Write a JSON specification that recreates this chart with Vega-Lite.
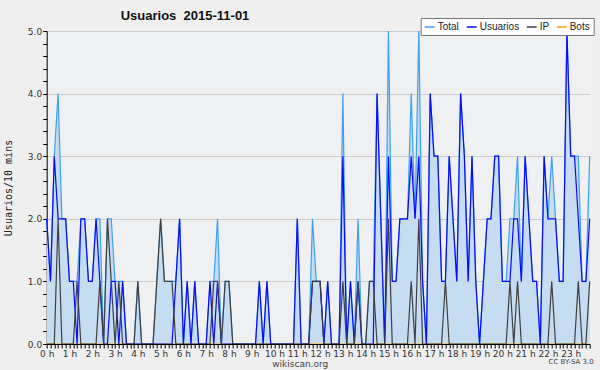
{
  "$schema": "https://vega.github.io/schema/vega-lite/v6.json",
  "autosize": {"type": "none"},
  "width": 543,
  "height": 313,
  "padding": {"left": 46.7, "top": 31, "right": 10.3, "bottom": 26},
  "background": "#efefef",
  "title": {"text": "Usuarios\u00a0 2015-11-01", "anchor": "start", "frame": "group", "dx": 74, "offset": -5, "font": "Liberation Sans", "fontSize": 13, "fontWeight": "bold", "color": "#111"},
  "config": {"view": {"fill": "#eef0f2", "stroke": null}, "font": "DejaVu Sans"},
  "data": {"values": [
    {"i":0,"Total":2,"Usuarios":2,"IP":0,"Bots":0},{"i":1,"Total":1,"Usuarios":1,"IP":0,"Bots":0},{"i":2,"Total":3,"Usuarios":3,"IP":0,"Bots":0},{"i":3,"Total":4,"Usuarios":2,"IP":2,"Bots":0},{"i":4,"Total":2,"Usuarios":2,"IP":0,"Bots":0},{"i":5,"Total":2,"Usuarios":2,"IP":0,"Bots":0},{"i":6,"Total":1,"Usuarios":1,"IP":0,"Bots":0},{"i":7,"Total":1,"Usuarios":1,"IP":0,"Bots":0},{"i":8,"Total":1,"Usuarios":0,"IP":1,"Bots":0},{"i":9,"Total":2,"Usuarios":2,"IP":0,"Bots":0},
    {"i":10,"Total":2,"Usuarios":2,"IP":0,"Bots":0},{"i":11,"Total":1,"Usuarios":1,"IP":0,"Bots":0},{"i":12,"Total":1,"Usuarios":1,"IP":0,"Bots":0},{"i":13,"Total":2,"Usuarios":2,"IP":0,"Bots":0},{"i":14,"Total":2,"Usuarios":1,"IP":1,"Bots":0},{"i":15,"Total":0,"Usuarios":0,"IP":0,"Bots":0},{"i":16,"Total":2,"Usuarios":0,"IP":2,"Bots":0},{"i":17,"Total":2,"Usuarios":1,"IP":1,"Bots":0},{"i":18,"Total":1,"Usuarios":1,"IP":0,"Bots":0},{"i":19,"Total":1,"Usuarios":0,"IP":1,"Bots":0},
    {"i":20,"Total":1,"Usuarios":1,"IP":0,"Bots":0},{"i":21,"Total":0,"Usuarios":0,"IP":0,"Bots":0},{"i":22,"Total":0,"Usuarios":0,"IP":0,"Bots":0},{"i":23,"Total":0,"Usuarios":0,"IP":0,"Bots":0},{"i":24,"Total":1,"Usuarios":0,"IP":1,"Bots":0},{"i":25,"Total":0,"Usuarios":0,"IP":0,"Bots":0},{"i":26,"Total":0,"Usuarios":0,"IP":0,"Bots":0},{"i":27,"Total":0,"Usuarios":0,"IP":0,"Bots":0},{"i":28,"Total":0,"Usuarios":0,"IP":0,"Bots":0},{"i":29,"Total":1,"Usuarios":0,"IP":1,"Bots":0},
    {"i":30,"Total":2,"Usuarios":0,"IP":2,"Bots":0},{"i":31,"Total":1,"Usuarios":0,"IP":1,"Bots":0},{"i":32,"Total":1,"Usuarios":0,"IP":1,"Bots":0},{"i":33,"Total":1,"Usuarios":0,"IP":1,"Bots":0},{"i":34,"Total":1,"Usuarios":1,"IP":0,"Bots":0},{"i":35,"Total":2,"Usuarios":2,"IP":0,"Bots":0},{"i":36,"Total":0,"Usuarios":0,"IP":0,"Bots":0},{"i":37,"Total":1,"Usuarios":1,"IP":0,"Bots":0},{"i":38,"Total":0,"Usuarios":0,"IP":0,"Bots":0},{"i":39,"Total":1,"Usuarios":1,"IP":0,"Bots":0},
    {"i":40,"Total":0,"Usuarios":0,"IP":0,"Bots":0},{"i":41,"Total":0,"Usuarios":0,"IP":0,"Bots":0},{"i":42,"Total":0,"Usuarios":0,"IP":0,"Bots":0},{"i":43,"Total":1,"Usuarios":1,"IP":0,"Bots":0},{"i":44,"Total":1,"Usuarios":0,"IP":1,"Bots":0},{"i":45,"Total":2,"Usuarios":1,"IP":1,"Bots":0},{"i":46,"Total":0,"Usuarios":0,"IP":0,"Bots":0},{"i":47,"Total":1,"Usuarios":0,"IP":1,"Bots":0},{"i":48,"Total":1,"Usuarios":0,"IP":1,"Bots":0},{"i":49,"Total":0,"Usuarios":0,"IP":0,"Bots":0},
    {"i":50,"Total":0,"Usuarios":0,"IP":0,"Bots":0},{"i":51,"Total":0,"Usuarios":0,"IP":0,"Bots":0},{"i":52,"Total":0,"Usuarios":0,"IP":0,"Bots":0},{"i":53,"Total":0,"Usuarios":0,"IP":0,"Bots":0},{"i":54,"Total":0,"Usuarios":0,"IP":0,"Bots":0},{"i":55,"Total":0,"Usuarios":0,"IP":0,"Bots":0},{"i":56,"Total":1,"Usuarios":1,"IP":0,"Bots":0},{"i":57,"Total":0,"Usuarios":0,"IP":0,"Bots":0},{"i":58,"Total":1,"Usuarios":1,"IP":0,"Bots":0},{"i":59,"Total":0,"Usuarios":0,"IP":0,"Bots":0},
    {"i":60,"Total":0,"Usuarios":0,"IP":0,"Bots":0},{"i":61,"Total":0,"Usuarios":0,"IP":0,"Bots":0},{"i":62,"Total":0,"Usuarios":0,"IP":0,"Bots":0},{"i":63,"Total":0,"Usuarios":0,"IP":0,"Bots":0},{"i":64,"Total":0,"Usuarios":0,"IP":0,"Bots":0},{"i":65,"Total":0,"Usuarios":0,"IP":0,"Bots":0},{"i":66,"Total":2,"Usuarios":2,"IP":0,"Bots":0},{"i":67,"Total":0,"Usuarios":0,"IP":0,"Bots":0},{"i":68,"Total":0,"Usuarios":0,"IP":0,"Bots":0},{"i":69,"Total":0,"Usuarios":0,"IP":0,"Bots":0},
    {"i":70,"Total":2,"Usuarios":1,"IP":1,"Bots":0},{"i":71,"Total":1,"Usuarios":1,"IP":1,"Bots":0},{"i":72,"Total":1,"Usuarios":1,"IP":1,"Bots":0},{"i":73,"Total":0,"Usuarios":0,"IP":0,"Bots":0},{"i":74,"Total":1,"Usuarios":1,"IP":0,"Bots":0},{"i":75,"Total":0,"Usuarios":0,"IP":0,"Bots":0},{"i":76,"Total":0,"Usuarios":0,"IP":0,"Bots":0},{"i":77,"Total":0,"Usuarios":0,"IP":0,"Bots":0},{"i":78,"Total":4,"Usuarios":3,"IP":1,"Bots":0},{"i":79,"Total":0,"Usuarios":0,"IP":0,"Bots":0},
    {"i":80,"Total":1,"Usuarios":1,"IP":0,"Bots":0},{"i":81,"Total":0,"Usuarios":0,"IP":0,"Bots":0},{"i":82,"Total":2,"Usuarios":1,"IP":1,"Bots":0},{"i":83,"Total":0,"Usuarios":0,"IP":0,"Bots":0},{"i":84,"Total":0,"Usuarios":0,"IP":0,"Bots":0},{"i":85,"Total":1,"Usuarios":0,"IP":1,"Bots":0},{"i":86,"Total":1,"Usuarios":0,"IP":1,"Bots":0},{"i":87,"Total":4,"Usuarios":4,"IP":0,"Bots":0},{"i":88,"Total":2,"Usuarios":2,"IP":0,"Bots":0},{"i":89,"Total":0,"Usuarios":0,"IP":0,"Bots":0},
    {"i":90,"Total":5,"Usuarios":3,"IP":2,"Bots":0},{"i":91,"Total":1,"Usuarios":1,"IP":0,"Bots":0},{"i":92,"Total":1,"Usuarios":1,"IP":0,"Bots":0},{"i":93,"Total":2,"Usuarios":2,"IP":0,"Bots":0},{"i":94,"Total":2,"Usuarios":2,"IP":0,"Bots":0},{"i":95,"Total":2,"Usuarios":2,"IP":0,"Bots":0},{"i":96,"Total":4,"Usuarios":3,"IP":1,"Bots":0},{"i":97,"Total":2,"Usuarios":2,"IP":0,"Bots":0},{"i":98,"Total":5,"Usuarios":3,"IP":2,"Bots":0},{"i":99,"Total":1,"Usuarios":1,"IP":0,"Bots":0},
    {"i":100,"Total":0,"Usuarios":0,"IP":0,"Bots":0},{"i":101,"Total":4,"Usuarios":4,"IP":0,"Bots":0},{"i":102,"Total":3,"Usuarios":3,"IP":0,"Bots":0},{"i":103,"Total":3,"Usuarios":3,"IP":0,"Bots":0},{"i":104,"Total":1,"Usuarios":1,"IP":0,"Bots":0},{"i":105,"Total":1,"Usuarios":1,"IP":1,"Bots":0},{"i":106,"Total":3,"Usuarios":3,"IP":0,"Bots":0},{"i":107,"Total":2,"Usuarios":2,"IP":0,"Bots":0},{"i":108,"Total":1,"Usuarios":1,"IP":0,"Bots":0},{"i":109,"Total":4,"Usuarios":4,"IP":0,"Bots":0},
    {"i":110,"Total":3,"Usuarios":3,"IP":0,"Bots":0},{"i":111,"Total":1,"Usuarios":1,"IP":0,"Bots":0},{"i":112,"Total":3,"Usuarios":3,"IP":0,"Bots":0},{"i":113,"Total":1,"Usuarios":1,"IP":0,"Bots":0},{"i":114,"Total":0,"Usuarios":0,"IP":0,"Bots":0},{"i":115,"Total":1,"Usuarios":1,"IP":0,"Bots":0},{"i":116,"Total":2,"Usuarios":2,"IP":0,"Bots":0},{"i":117,"Total":2,"Usuarios":2,"IP":0,"Bots":0},{"i":118,"Total":3,"Usuarios":3,"IP":0,"Bots":0},{"i":119,"Total":3,"Usuarios":3,"IP":0,"Bots":0},
    {"i":120,"Total":1,"Usuarios":1,"IP":0,"Bots":0},{"i":121,"Total":1,"Usuarios":1,"IP":0,"Bots":0},{"i":122,"Total":2,"Usuarios":1,"IP":1,"Bots":0},{"i":123,"Total":2,"Usuarios":2,"IP":0,"Bots":0},{"i":124,"Total":3,"Usuarios":2,"IP":1,"Bots":0},{"i":125,"Total":1,"Usuarios":1,"IP":0,"Bots":0},{"i":126,"Total":3,"Usuarios":3,"IP":0,"Bots":0},{"i":127,"Total":2,"Usuarios":2,"IP":0,"Bots":0},{"i":128,"Total":1,"Usuarios":1,"IP":0,"Bots":0},{"i":129,"Total":1,"Usuarios":1,"IP":0,"Bots":0},
    {"i":130,"Total":0,"Usuarios":0,"IP":0,"Bots":0},{"i":131,"Total":3,"Usuarios":3,"IP":0,"Bots":0},{"i":132,"Total":2,"Usuarios":2,"IP":0,"Bots":0},{"i":133,"Total":3,"Usuarios":2,"IP":1,"Bots":0},{"i":134,"Total":2,"Usuarios":2,"IP":0,"Bots":0},{"i":135,"Total":1,"Usuarios":1,"IP":0,"Bots":0},{"i":136,"Total":1,"Usuarios":1,"IP":0,"Bots":0},{"i":137,"Total":5,"Usuarios":5,"IP":0,"Bots":0},{"i":138,"Total":3,"Usuarios":3,"IP":0,"Bots":0},{"i":139,"Total":3,"Usuarios":3,"IP":0,"Bots":0},
    {"i":140,"Total":3,"Usuarios":2,"IP":1,"Bots":0},{"i":141,"Total":1,"Usuarios":1,"IP":0,"Bots":0},{"i":142,"Total":1,"Usuarios":1,"IP":0,"Bots":0},{"i":143,"Total":3,"Usuarios":2,"IP":1,"Bots":0}
  ]},
  "encoding": {
    "x": {"field": "i", "type": "quantitative", "scale": {"domain": [0, 143], "nice": false, "zero": false},
      "axis": {"title": "wikiscan.org", "titleFontSize": 9, "titleFont": "DejaVu Sans", "titleColor": "#444", "titleFontWeight": "normal", "titleX": 253, "titlePadding": 1,
        "tickCount": 143, "labelExpr": "datum.value % 6 === 0 ? (datum.value / 6) + ' h' : ''", "labelOverlap": false, "labelFlush": false,
        "labelFontSize": 9, "labelColor": "#333", "labelPadding": 1, "tickSize": 4, "tickColor": "#000", "domainColor": "#000", "grid": false, "zindex": 1}}
  },
  "layer": [
    {"mark": {"type": "area", "color": "#c6dcf0", "opacity": 1},
     "encoding": {"y": {"field": "Total", "type": "quantitative", "scale": {"domain": [0, 5], "nice": false},
       "axis": {"title": "Usuarios/10 mins", "titleFont": "DejaVu Sans Mono", "titleFontSize": 10, "titleFontWeight": "normal", "titleColor": "#222", "titlePadding": 14,
         "tickCount": 20, "labelExpr": "datum.value % 1 === 0 ? format(datum.value, '.1f') : ''", "labelOverlap": false, "labelFlush": false,
         "labelFontSize": 9, "labelColor": "#333", "labelPadding": 1, "tickSize": 4, "tickColor": "#000", "domainColor": "#000",
         "grid": true, "gridColor": "#cccccc", "gridOpacity": {"condition": {"test": "datum.value % 1 === 0 && datum.value > 0", "value": 1}, "value": 0}}}}},
    {"transform": [{"fold": ["Bots", "Total", "Usuarios", "IP"], "as": ["serie", "v"]}],
     "mark": {"type": "line", "strokeWidth": 1.2},
     "encoding": {
       "y": {"field": "v", "type": "quantitative"},
       "detail": {"field": "serie"},
       "color": {"field": "serie", "type": "nominal",
         "scale": {"domain": ["Total", "Usuarios", "IP", "Bots"], "range": ["#3fa0f2", "#0a0aff", "#404040", "#ffa500"]},
         "legend": {"title": null, "orient": "none", "legendX": 374, "legendY": -13, "direction": "horizontal",
           "symbolType": "stroke", "symbolStrokeWidth": 1.5, "symbolSize": 100, "labelFontSize": 10, "labelFont": "Liberation Sans", "labelColor": "#222",
           "labelOffset": 2, "columnPadding": 4, "fillColor": "#ffffff", "strokeColor": "#777777", "padding": 3, "cornerRadius": 0}}
     }},
    {"data": {"values": [{"i": 143, "label": "CC BY-SA 3.0"}]},
     "mark": {"type": "text", "fontSize": 7, "align": "right", "dy": 18, "dx": 4, "color": "#444"},
     "encoding": {"y": {"datum": 0}, "text": {"field": "label"}}}
  ]
}
